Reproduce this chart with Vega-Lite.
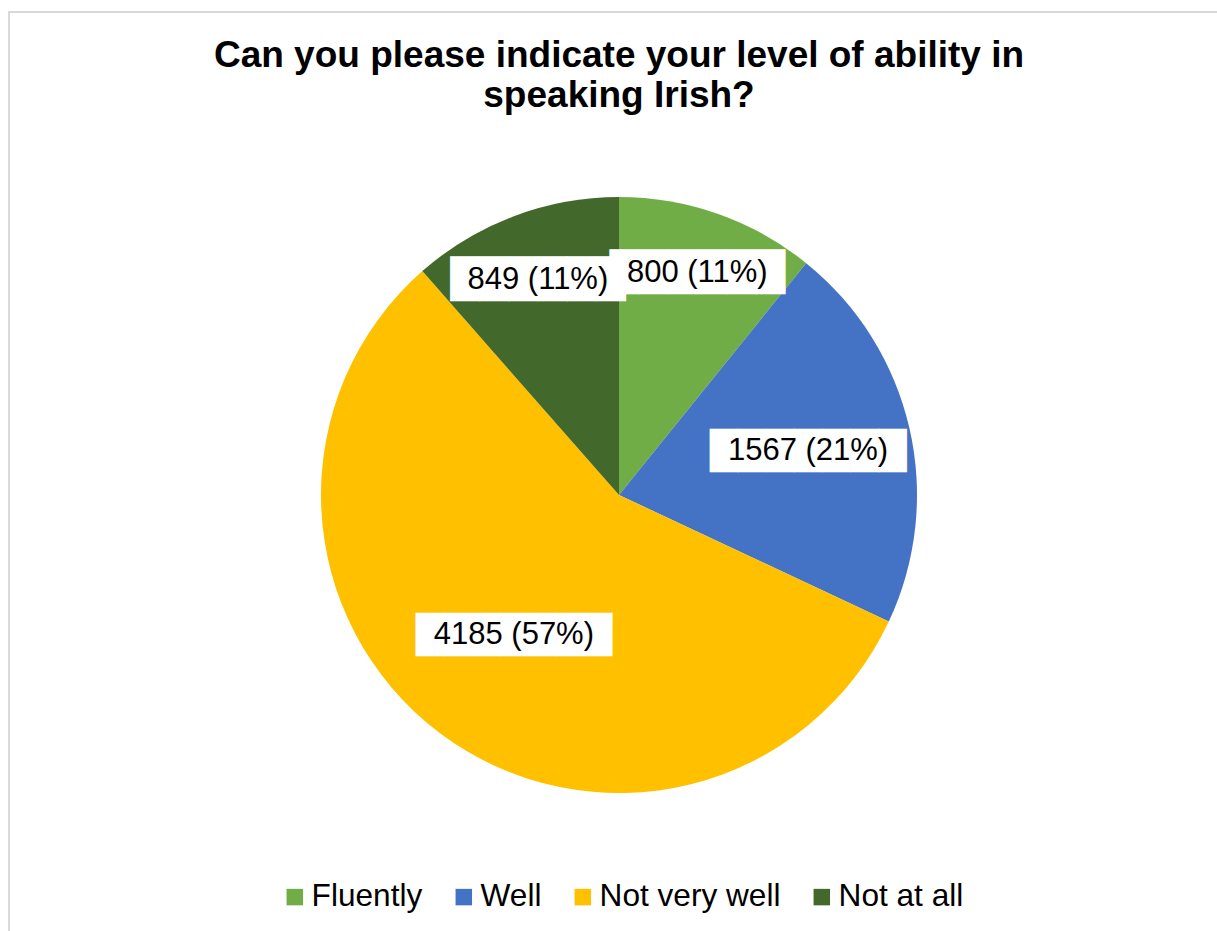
{
  "$schema": "https://vega.github.io/schema/vega-lite/v6.json",
  "width": 1220,
  "height": 966,
  "autosize": {"type": "none"},
  "padding": {"left": 9, "top": 12, "right": -12, "bottom": -47},
  "background": "white",
  "view": {"stroke": "#d9d9d9", "strokeWidth": 2},
  "title": {
    "text": ["Can you please indicate your level of ability in", "speaking Irish?"],
    "font": "Liberation Sans",
    "fontSize": 37,
    "fontWeight": "bold",
    "color": "black",
    "anchor": "middle",
    "lineHeight": 40,
    "baseline": "alphabetic",
    "offset": -132
  },
  "data": {
    "values": [
      {"level": "Fluently", "value": 800, "label": "800 (11%)"},
      {"level": "Well", "value": 1567, "label": "1567 (21%)"},
      {"level": "Not very well", "value": 4185, "label": "4185 (57%)"},
      {"level": "Not at all", "value": 849, "label": "849 (11%)"}
    ]
  },
  "transform": [{"window": [{"op": "row_number", "as": "idx"}]}],
  "encoding": {
    "theta": {"field": "value", "type": "quantitative", "stack": true},
    "order": {"field": "idx", "type": "quantitative"},
    "color": {
      "field": "level",
      "type": "nominal",
      "sort": ["Fluently", "Well", "Not very well", "Not at all"],
      "scale": {
        "domain": ["Fluently", "Well", "Not very well", "Not at all"],
        "range": ["#70AD47", "#4472C4", "#FFC000", "#43682B"]
      },
      "legend": {
        "orient": "none",
        "legendX": 270,
        "legendY": 869,
        "direction": "horizontal",
        "title": null,
        "symbolType": "square",
        "symbolSize": 272,
        "symbolStrokeWidth": 0,
        "symbolOpacity": 1,
        "labelFont": "Liberation Sans",
        "labelFontSize": 31.6,
        "labelColor": "black",
        "labelOffset": 1,
        "columnPadding": 25,
        "labelLimit": 500,
        "padding": 0
      }
    }
  },
  "layer": [
    {"mark": {"type": "arc", "outerRadius": 298}},
    {
      "mark": {"type": "text", "font": "DejaVu Sans", "align": "center", "baseline": "middle", "dy": 1},
      "encoding": {
        "text": {"condition": {"test": "datum.value >= 1000", "value": "███████"}, "value": "██████"},
        "size": {"condition": {"test": "datum.value >= 1000", "value": 36.5}, "value": 38},
        "fill": {"value": "white"},
        "radius": {"field": "value", "type": "quantitative", "scale": {"type": "linear", "domain": [800, 849, 1567, 4185], "range": [235, 230, 194, 175], "zero": false}}
      }
    },
    {
      "mark": {"type": "text", "font": "Liberation Sans", "fontSize": 31, "align": "center", "baseline": "middle"},
      "encoding": {
        "text": {"field": "label"},
        "fill": {"value": "black"},
        "radius": {"field": "value", "type": "quantitative", "scale": {"type": "linear", "domain": [800, 849, 1567, 4185], "range": [235, 230, 194, 175], "zero": false}}
      }
    }
  ],
  "config": {"view": {"stroke": "#d9d9d9", "strokeWidth": 2}}
}
